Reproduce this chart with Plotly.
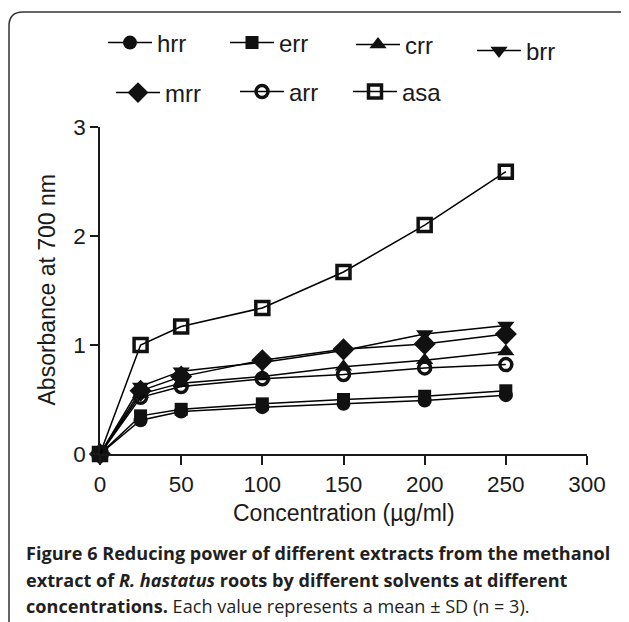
import plotly.graph_objects as go

W, H = 629, 622
OFF = 8  # page body margin
FW, FH = W - OFF, H - OFF

conc = [0, 25, 50, 100, 150, 200, 250]
series_names = ["hrr", "err", "crr", "brr", "mrr", "arr", "asa"]
hrr = [0, 0.31, 0.39, 0.43, 0.46, 0.49, 0.54]
err = [0, 0.35, 0.41, 0.46, 0.50, 0.53, 0.58]
crr = [0, 0.55, 0.65, 0.71, 0.80, 0.86, 0.94]
brr = [0, 0.62, 0.76, 0.84, 0.95, 1.10, 1.18]
mrr = [0, 0.58, 0.71, 0.86, 0.96, 1.01, 1.10]
arr = [0, 0.52, 0.62, 0.69, 0.73, 0.79, 0.82]
asa = [0, 1.00, 1.17, 1.34, 1.67, 2.10, 2.59]
values = [hrr, err, crr, brr, mrr, arr, asa]

x_ticks = [0, 50, 100, 150, 200, 250, 300]
y_ticks = [0, 1, 2, 3]

symbols = ["circle", "square", "triangle-up", "triangle-down", "diamond", "circle-open", "square-open"]
sizes = [14, 13, 15, 15, 17, 12, 13]
# legend positions (pixels of the line start, row centre)
leg_pos = [(108, 43), (230, 43), (356, 45), (477, 51), (116, 93), (240, 92), (353, 92)]

def px(x):
    return (x - OFF) / FW

def py(y):
    return 1 - (y - OFF) / FH

fig = go.Figure()
layout_legends = {}
for i, (name, vals) in enumerate(zip(series_names, values)):
    lname = "legend" if i == 0 else f"legend{i+1}"
    open_m = symbols[i].endswith("open")
    fig.add_trace(go.Scatter(
        x=conc, y=vals, name=name, mode="lines+markers",
        line=dict(color="black", width=1.5),
        marker=dict(symbol=symbols[i], size=sizes[i], color="#111111",
                    line=dict(color="#111111", width=3.5 if open_m else 0)),
        legend=lname, cliponaxis=False,
    ))
    lx, ly = leg_pos[i]
    layout_legends[lname] = dict(
        x=px(lx - 5), y=py(ly), xanchor="left", yanchor="middle",
        orientation="h", bgcolor="rgba(0,0,0,0)", borderwidth=0,
        font=dict(family="Liberation Sans, Arial", size=24, color="#1a1a1a"),
        itemwidth=44, tracegroupgap=0,
    )

axis_font = dict(family="Liberation Sans, Arial", size=22.5, color="#1a1a1a")
title_font = dict(family="Liberation Sans, Arial", size=23, color="#1a1a1a")
fig.update_layout(
    template="none",
    width=FW, height=FH,
    margin=dict(l=0, r=0, t=0, b=0, autoexpand=False),
    paper_bgcolor="white", plot_bgcolor="white",
    showlegend=True,
    **layout_legends,
    xaxis=dict(
        domain=[px(100), px(587)], range=[0, 300], tickvals=x_ticks,
        showgrid=False, zeroline=False, showline=True, linecolor="#1a1a1a", linewidth=1.5,
        ticks="outside", ticklen=9, tickwidth=1.5, tickcolor="#1a1a1a",
        tickfont=axis_font, anchor="y", automargin=False,
    ),
    yaxis=dict(
        domain=[py(454), py(127)], range=[0, 3], tickvals=y_ticks,
        showgrid=False, zeroline=False, showline=True, linecolor="#1a1a1a", linewidth=1.5,
        ticks="outside", ticklen=8, tickwidth=1.5, tickcolor="#1a1a1a",
        tickfont=axis_font, anchor="x", automargin=False,
    ),
)

# axis titles
fig.add_annotation(text="Concentration (µg/ml)", x=px(343.5), y=py(513), xref="paper", yref="paper",
                   xanchor="center", yanchor="middle", showarrow=False, font=title_font)
fig.add_annotation(text="Absorbance at 700 nm", x=px(46), y=py(290.5), xref="paper", yref="paper",
                   xanchor="center", yanchor="middle", showarrow=False, font=title_font, textangle=-90)

# rounded frame
r = 14
x0, y0, x1, y1 = 9, 12, 645, 645
path = (f"M {px(x0)},{py(y0 + r)} Q {px(x0)},{py(y0)} {px(x0 + r)},{py(y0)} "
        f"L {px(x1)},{py(y0)} L {px(x1)},{py(y1)} L {px(x0)},{py(y1)} Z")
fig.add_shape(type="path", path=path, xref="paper", yref="paper",
              line=dict(color="#333333", width=1.5), fillcolor="rgba(0,0,0,0)", layer="below")

cap_font = dict(family="Open Sans, Noto Sans", size=18.1, color="#231f20")
captions = [
    "<b>Figure 6</b> <b>Reducing power of different extracts from the methanol</b>",
    "<b>extract of <i>R. hastatus</i> roots by different solvents at different</b>",
    "<b>concentrations.</b> Each value represents a mean ± SD (n = 3).",
]
cap_y = [553, 580, 606]
for k, t in enumerate(captions):
    fig.add_annotation(text=t, x=px(24), y=py(cap_y[k]), xref="paper", yref="paper",
                       xanchor="left", yanchor="middle", showarrow=False, font=cap_font)

fig.write_html("out.html")
